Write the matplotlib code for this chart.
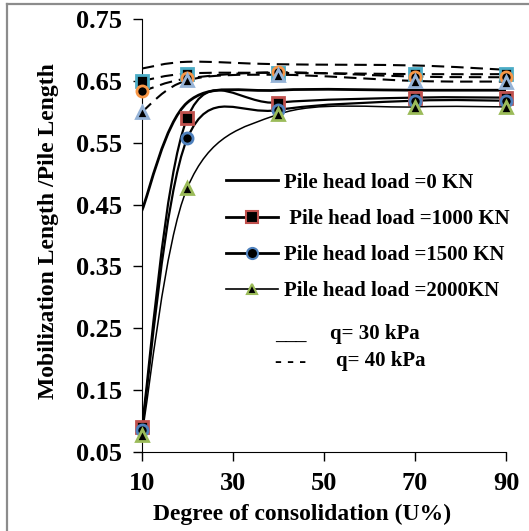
import matplotlib
matplotlib.use("Agg")
import matplotlib.pyplot as plt
from matplotlib.path import Path
from matplotlib.patches import PathPatch
from matplotlib.lines import Line2D
import numpy as np

# Degree of consolidation (U%)
u = [10, 20, 40, 70, 90]

# q = 30 kPa (solid lines)
q30_load0 = [0.440, 0.615, 0.635, 0.635, 0.635]
q30_load1000 = [0.090, 0.590, 0.615, 0.623, 0.623]
q30_load1500 = [0.085, 0.557, 0.603, 0.618, 0.618]
q30_load2000 = [0.077, 0.477, 0.596, 0.608, 0.608]

# q = 40 kPa (dashed lines)
q40_load0 = [0.670, 0.681, 0.677, 0.675, 0.668]
q40_load1000 = [0.650, 0.662, 0.663, 0.661, 0.661]
q40_load1500 = [0.633, 0.654, 0.664, 0.657, 0.656]
q40_load2000 = [0.600, 0.651, 0.660, 0.650, 0.649]

legend_labels = ["Pile head load =0 KN", " Pile head load =1000 KN",
                 "Pile head load =1500 KN", "Pile head load =2000KN"]

plt.rcParams['font.family'] = 'Liberation Serif'
plt.rcParams['font.weight'] = 'bold'


def smooth_path(xs, ys):
    # Excel-style smoothed line: Catmull-Rom -> cubic Bezier segments
    pts = np.column_stack([xs, ys]).astype(float)
    n = len(pts)
    verts = [pts[0]]
    codes = [Path.MOVETO]
    for i in range(n - 1):
        p0 = pts[max(i - 1, 0)]
        p1 = pts[i]
        p2 = pts[i + 1]
        p3 = pts[min(i + 2, n - 1)]
        verts += [p1 + (p2 - p0) / 6, p2 - (p3 - p1) / 6, p2]
        codes += [Path.CURVE4] * 3
    return Path(verts, codes)


fig = plt.figure(figsize=(5.29, 5.31), dpi=100)
ax = fig.add_axes([0.268, 0.149, 0.6885, 0.815])

# series: (values, line style, line width, marker, edge colour)
dash = (0, (6, 3.3))
series = [
    (q30_load0, '-', 2.0, None, None),
    (q30_load1000, '-', 1.6, 's', '#C0504D'),
    (q30_load1500, '-', 1.6, 'o', '#4F81BD'),
    (q30_load2000, '-', 1.1, '^', '#9BBB59'),
    (q40_load0, dash, 1.5, None, None),
    (q40_load1000, dash, 1.5, 's', '#4BACC6'),
    (q40_load1500, dash, 1.5, 'o', '#F79646'),
    (q40_load2000, dash, 1.5, '^', '#95B3D7'),
]

for vals, ls, lw, mk, col in series:
    patch = PathPatch(smooth_path(u, vals), fill=False, edgecolor='black',
                      linewidth=lw, linestyle=ls, zorder=2)
    ax.add_patch(patch)
    if mk is not None:
        ax.plot(u, vals, linestyle='none', marker=mk, markersize=8,
                markerfacecolor='black', markeredgecolor=col,
                markeredgewidth=2, zorder=3, clip_on=False)

ax.set_xlim(10, 90)
ax.set_ylim(0.05, 0.75)
ax.set_xticks([10, 30, 50, 70, 90])
ax.set_yticks([0.05, 0.15, 0.25, 0.35, 0.45, 0.55, 0.65, 0.75])
ax.set_yticklabels(['0.05', '0.15', '0.25', '0.35', '0.45', '0.55', '0.65', '0.75'])
ax.tick_params(labelsize=19, length=6.5, width=1, direction='out')
ax.tick_params(axis='y', pad=8)
ax.tick_params(axis='x', pad=8)
for lab in ax.get_xticklabels() + ax.get_yticklabels():
    lab.set_fontweight('bold')
ax.spines['top'].set_visible(False)
ax.spines['right'].set_visible(False)
ax.set_xlabel('Degree of consolidation (U%)', fontsize=17, fontweight='bold',
              labelpad=6, x=0.44)
ax.set_ylabel('Mobilization Length /Pile Length', fontsize=17, fontweight='bold',
              labelpad=12, y=0.51)

handles = [
    Line2D([], [], color='black', lw=2.0),
    Line2D([], [], color='black', lw=2.0, marker='s', markersize=8,
           markerfacecolor='black', markeredgecolor='#C0504D', markeredgewidth=1.5),
    Line2D([], [], color='black', lw=2.0, marker='o', markersize=8,
           markerfacecolor='black', markeredgecolor='#4F81BD', markeredgewidth=1.5),
    Line2D([], [], color='black', lw=1.2, marker='^', markersize=7,
           markerfacecolor='black', markeredgecolor='#9BBB59', markeredgewidth=1.5),
]
fig.legend(handles, legend_labels, loc='upper left',
           bbox_to_anchor=(0.4267, 0.675), frameon=False,
           prop={'size': 15, 'weight': 'bold'}, handlelength=2.5,
           handletextpad=0.3, labelspacing=0.78, borderpad=0, borderaxespad=0)

fig.text(275 / 529, 1 - 335 / 531, '___', fontsize=15, fontweight='bold', va='center')
fig.text(330 / 529, 1 - 334 / 531, 'q= 30 kPa', fontsize=15, fontweight='bold', va='center')
fig.text(275 / 529, 1 - 362 / 531, '- - -', fontsize=15, fontweight='bold', va='center')
fig.text(336 / 529, 1 - 361 / 531, 'q= 40 kPa', fontsize=15, fontweight='bold', va='center')

# grey frame around the chart area (left and top edges are visible)
fig.add_artist(Line2D([7 / 529, 7 / 529], [0, 1 - 3.5 / 531], transform=fig.transFigure,
                      color='#8C8C8C', lw=1.6))
fig.add_artist(Line2D([7 / 529, 1], [1 - 3.5 / 531, 1 - 3.5 / 531], transform=fig.transFigure,
                      color='#8C8C8C', lw=1.6))

fig.savefig('out.png', dpi=100)
